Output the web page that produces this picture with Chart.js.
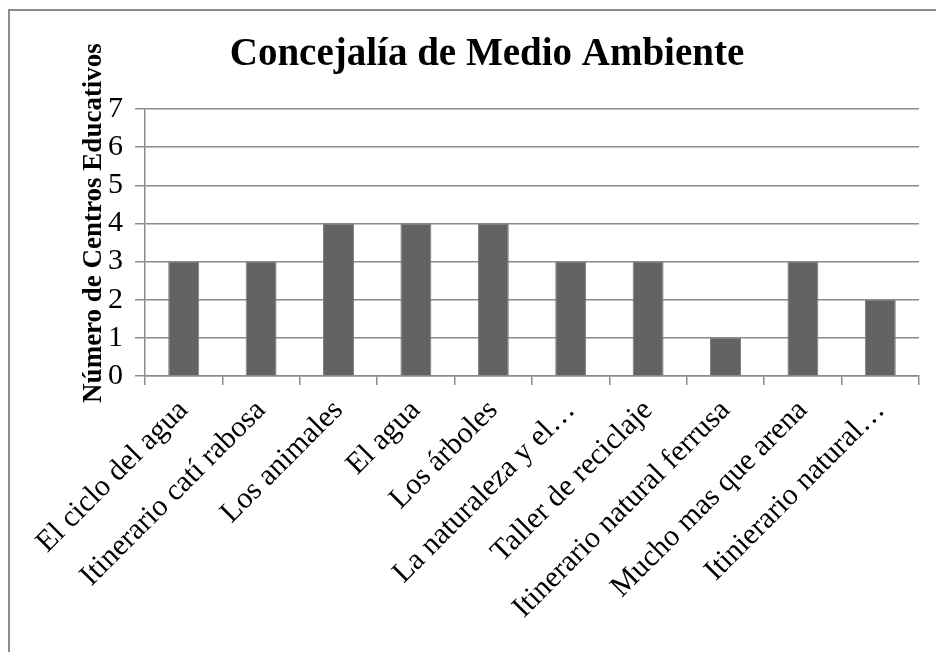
<!DOCTYPE html>
<html lang="es">
  <head>
    <meta charset="UTF-8" />
    <title>Concejalía de Medio Ambiente</title>
    <script src="https://cdn.jsdelivr.net/npm/chart.js"></script>
    <style>
      html, body { margin: 0; padding: 0; background: #fff; overflow: hidden; }
      #frame {
        position: absolute; left: 8px; top: 9px; width: 1000px; height: 700px;
        border-left: 2px solid #8c8c8c; border-top: 2px solid #8c8c8c;
      }
      #wrap { position: absolute; left: 0; top: 0; width: 936px; height: 652px; }
    </style>
  </head>
  <body>
    <div id="frame"></div>
    <div id="wrap"><canvas id="chart" width="936" height="652"></canvas></div>

    <script>
      // datos
      const categorias = [
        "El ciclo del agua",
        "Itinerario catí rabosa",
        "Los animales",
        "El agua",
        "Los árboles",
        "La naturaleza y el…",
        "Taller de reciclaje",
        "Itinerario natural ferrusa",
        "Mucho mas que arena",
        "Itinierario natural…",
      ];
      const centros = [3, 3, 4, 4, 4, 3, 3, 1, 3, 2];
      const ticksY = [0, 1, 2, 3, 4, 5, 6, 7];

      const titulo = "Concejalía de Medio Ambiente";
      const tituloY = "Número de Centros Educativos";
      const serif = "'Liberation Serif', 'Times New Roman', serif";
      const gris = "#8c8c8c";

      // títulos dibujados a mano para colocarlos como en el original
      const titulos = {
        id: "titulos",
        afterDraw(chart) {
          const c = chart.ctx;
          c.save();
          c.fillStyle = "#000";
          c.textAlign = "center";
          c.textBaseline = "middle";
          c.font = "bold 39px " + serif;
          c.fillText(titulo, 487, 55);
          c.translate(94, 223);
          c.rotate(-Math.PI / 2);
          c.font = "bold 27px " + serif;
          c.fillText(tituloY, 0, 0);
          c.restore();
        },
      };

      new Chart(document.getElementById("chart"), {
        type: "bar",
        data: {
          labels: categorias,
          datasets: [
            {
              data: centros,
              backgroundColor: "#636363",
              borderColor: "#7a7a7a",
              borderWidth: 1,
              barPercentage: 0.4,
              categoryPercentage: 1,
            },
          ],
        },
        options: {
          responsive: false,
          animation: false,
          layout: { padding: { top: 109, right: 17, left: 0, bottom: 0 } },
          plugins: { legend: { display: false }, title: { display: false }, tooltip: { enabled: false } },
          scales: {
            x: {
              afterFit: (s) => { s.height = 276; },
              grid: { offset: true, drawOnChartArea: false, color: gris, lineWidth: 1.5, tickLength: 9 },
              border: { color: gris, width: 1.5 },
              ticks: {
                autoSkip: false,
                minRotation: 45,
                maxRotation: 45,
                color: "#000",
                padding: 8,
                font: { family: serif, size: 30 },
              },
            },
            y: {
              min: 0,
              max: 7,
              afterFit: (s) => { s.width = 145; },
              afterBuildTicks: (s) => { s.ticks = ticksY.map((v) => ({ value: v })); },
              grid: { color: gris, lineWidth: 1.5, tickLength: 10 },
              border: { color: gris, width: 1.5 },
              ticks: {
                autoSkip: false,
                color: "#000",
                padding: 12,
                font: { family: serif, size: 30 },
              },
            },
          },
        },
        plugins: [titulos],
      });
    </script>
  </body>
</html>
